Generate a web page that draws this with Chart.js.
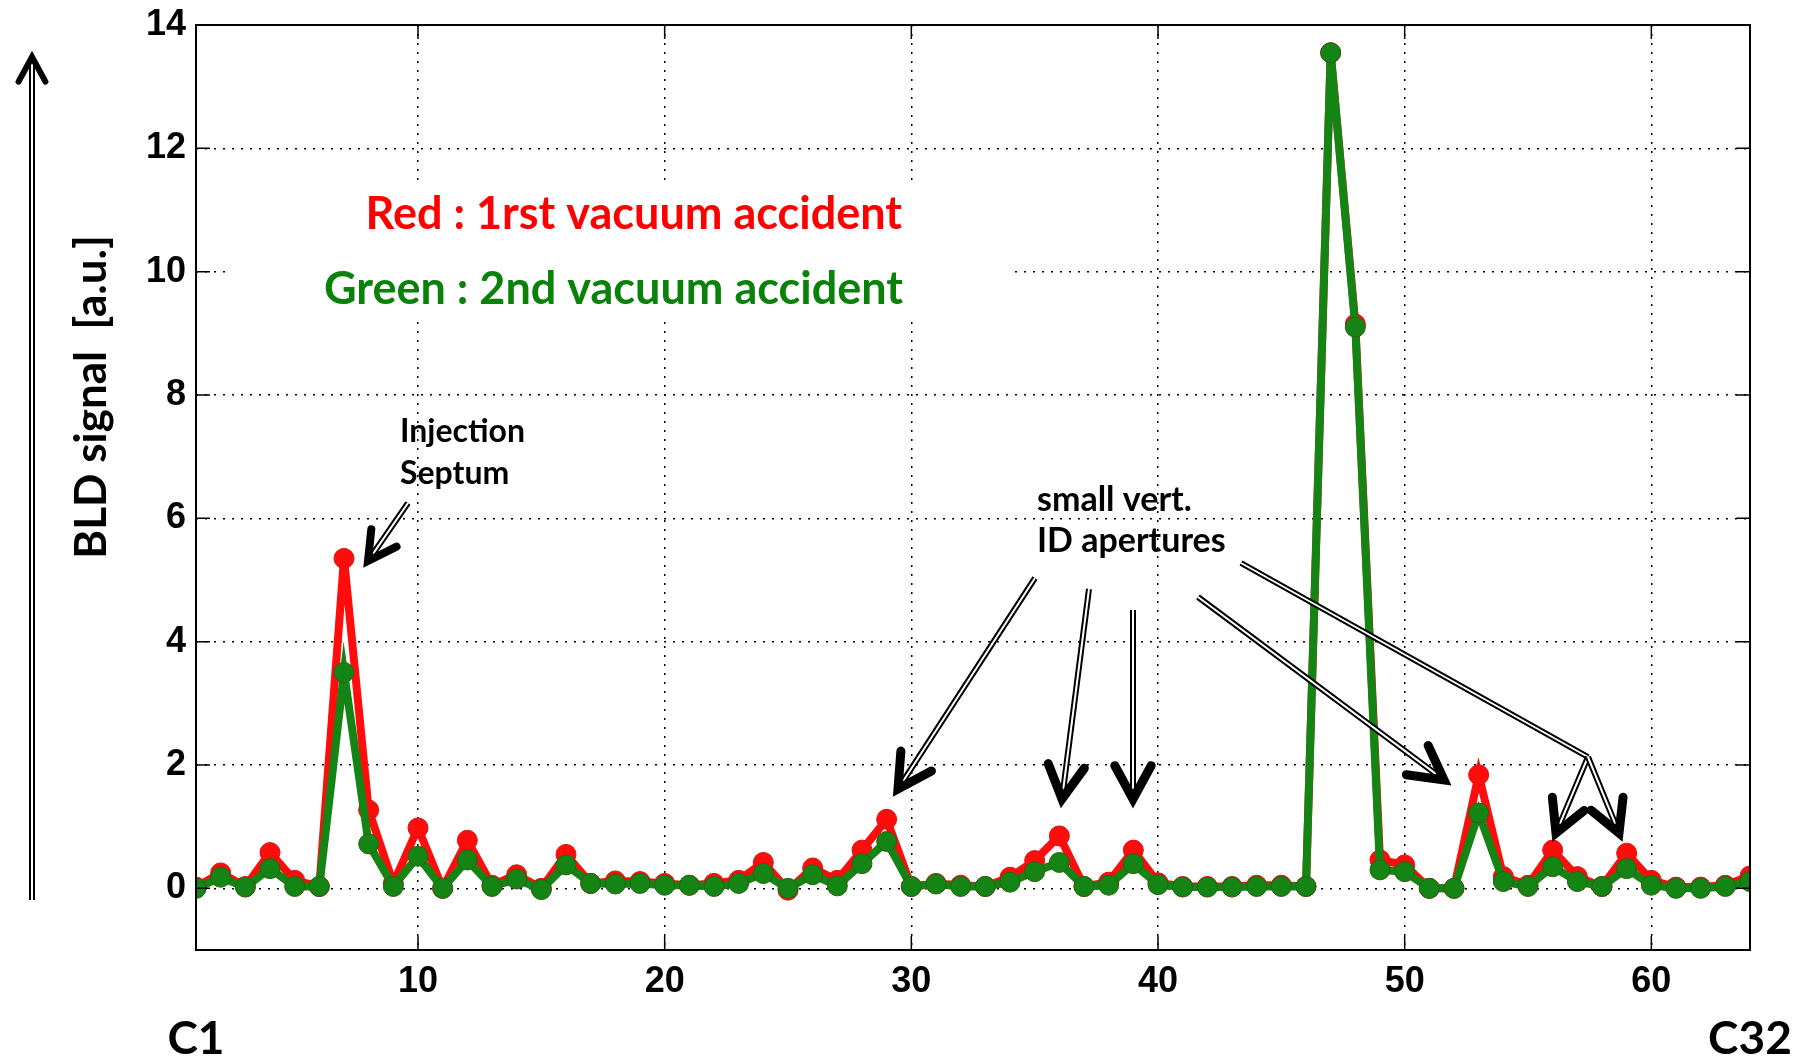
<!DOCTYPE html>
<html>
<head>
<meta charset="utf-8">
<script src="https://cdn.jsdelivr.net/npm/chart.js@4.4.0/dist/chart.umd.min.js"></script>
<style>
  body { margin: 0; background: #fff; }
  #wrap { width: 1794px; height: 1059px; position: relative; }
</style>
</head>
<body>
<div id="wrap"><canvas id="grafico"></canvas></div>
<script>
// ======== Dados ========
const canais = [1, 2, 3, 4, 5, 6, 7, 8, 9, 10, 11, 12, 13, 14, 15, 16,
  17, 18, 19, 20, 21, 22, 23, 24, 25, 26, 27, 28, 29, 30, 31, 32,
  33, 34, 35, 36, 37, 38, 39, 40, 41, 42, 43, 44, 45, 46, 47, 48,
  49, 50, 51, 52, 53, 54, 55, 56, 57, 58, 59, 60, 61, 62, 63, 64];

// 1st vacuum accident (red)
const sinalRed = [0.02, 0.25, 0.03, 0.58, 0.13, 0.03, 5.35, 1.27, 0.08, 0.98, 0.0, 0.78, 0.05, 0.22, 0.0, 0.55,
  0.08, 0.12, 0.11, 0.08, 0.05, 0.08, 0.13, 0.42, -0.03, 0.33, 0.13, 0.62, 1.12, 0.03, 0.08, 0.05,
  0.03, 0.18, 0.45, 0.85, 0.03, 0.1, 0.62, 0.09, 0.03, 0.03, 0.03, 0.05, 0.05, 0.03, 13.55, 9.15,
  0.46, 0.38, 0.0, 0.0, 1.84, 0.19, 0.05, 0.62, 0.19, 0.03, 0.57, 0.13, 0.02, 0.02, 0.05, 0.2];

// 2nd vacuum accident (green)
const sinalGreen = [0.0, 0.18, 0.02, 0.32, 0.03, 0.03, 3.5, 0.72, 0.03, 0.52, 0.0, 0.46, 0.03, 0.15, -0.02, 0.38,
  0.08, 0.07, 0.08, 0.05, 0.05, 0.03, 0.08, 0.24, 0.0, 0.22, 0.04, 0.4, 0.76, 0.03, 0.07, 0.03,
  0.03, 0.1, 0.27, 0.42, 0.03, 0.05, 0.4, 0.06, 0.02, 0.02, 0.02, 0.03, 0.03, 0.03, 13.55, 9.1,
  0.3, 0.27, 0.0, 0.0, 1.22, 0.11, 0.03, 0.35, 0.11, 0.03, 0.32, 0.05, 0.0, 0.0, 0.03, 0.11];

const ticksX = [10, 20, 30, 40, 50, 60];
const ticksY = [0, 2, 4, 6, 8, 10, 12, 14];

const VERMELHO = "#ff0c0c";
const VERDE = "#148414";

// ======== Desenho auxiliar ========
function setaDupla(ctx, x1, y1, x2, y2) {
  ctx.save();
  ctx.lineCap = "butt";
  ctx.strokeStyle = "#000";
  ctx.lineWidth = 6;
  ctx.beginPath(); ctx.moveTo(x1, y1); ctx.lineTo(x2, y2); ctx.stroke();
  ctx.strokeStyle = "#fff";
  ctx.lineWidth = 2;
  ctx.beginPath(); ctx.moveTo(x1, y1); ctx.lineTo(x2, y2); ctx.stroke();
  ctx.restore();
}

function ponta(ctx, xa, ya, x, y, tam, larg) {
  const ang = Math.atan2(y - ya, x - xa);
  ctx.save();
  ctx.strokeStyle = "#000";
  ctx.lineWidth = larg;
  ctx.lineCap = "round";
  ctx.lineJoin = "miter";
  ctx.beginPath();
  ctx.moveTo(x - tam * Math.cos(ang - 0.5), y - tam * Math.sin(ang - 0.5));
  ctx.lineTo(x, y);
  ctx.lineTo(x - tam * Math.cos(ang + 0.5), y - tam * Math.sin(ang + 0.5));
  ctx.stroke();
  ctx.restore();
}

function seta(ctx, x1, y1, x2, y2, tam, larg) {
  const ang = Math.atan2(y2 - y1, x2 - x1);
  setaDupla(ctx, x1, y1, x2 - 6 * Math.cos(ang), y2 - 6 * Math.sin(ang));
  ponta(ctx, x1, y1, x2, y2, tam, larg);
}

const decoracao = {
  id: "decoracao",
  beforeDatasetsDraw(chart) {
    const ctx = chart.ctx;
    // fundo branco atras da legenda
    ctx.save();
    ctx.fillStyle = "#fff";
    ctx.fillRect(229, 183, 784, 132);
    ctx.textBaseline = "middle";
    ctx.textAlign = "right";
    ctx.font = "bold 45px Lato";
    ctx.fillStyle = "#ff0000";
    ctx.fillText("Red : 1rst vacuum accident", 902, 214);
    ctx.fillStyle = "#0a820a";
    ctx.fillText("Green : 2nd vacuum accident", 903, 289);
    ctx.restore();
  },
  afterDatasetsDraw(chart) {
    const ctx = chart.ctx;
    const a = chart.chartArea;
    const sx = chart.scales.x, sy = chart.scales.y;
    ctx.save();
    ctx.strokeStyle = "#000";
    ctx.lineWidth = 2;
    ctx.strokeRect(a.left, a.top, a.right - a.left, a.bottom - a.top);
    // marcas internas
    ctx.lineWidth = 1.5;
    ticksX.forEach((v) => {
      const px = sx.getPixelForValue(v);
      ctx.beginPath();
      ctx.moveTo(px, a.bottom); ctx.lineTo(px, a.bottom - 14);
      ctx.moveTo(px, a.top); ctx.lineTo(px, a.top + 14);
      ctx.stroke();
    });
    ticksY.forEach((v) => {
      const py = sy.getPixelForValue(v);
      ctx.beginPath();
      ctx.moveTo(a.left, py); ctx.lineTo(a.left + 14, py);
      ctx.moveTo(a.right, py); ctx.lineTo(a.right - 14, py);
      ctx.stroke();
    });
    ctx.restore();
  },
  afterDraw(chart) {
    const ctx = chart.ctx;
    const sx = chart.scales.x;
    ctx.save();
    // titulo do eixo y
    ctx.fillStyle = "#000";
    ctx.translate(92, 397);
    ctx.rotate(-Math.PI / 2);
    ctx.textAlign = "center";
    ctx.textBaseline = "middle";
    ctx.font = "bold 44px Lato";
    ctx.fillText("BLD signal  [a.u.]", 0, 0);
    ctx.restore();

    ctx.save();
    ctx.fillStyle = "#000";
    ctx.textBaseline = "middle";
    ctx.textAlign = "center";
    ctx.font = "bold 46px Lato";
    ctx.fillText("C1", sx.getPixelForValue(canais[0]), 1039);
    ctx.fillText("C32", sx.getPixelForValue(canais[canais.length - 1]), 1039);

    ctx.textAlign = "left";
    ctx.font = "bold 32px Lato";
    ctx.fillText("Injection", 400, 432);
    ctx.fillText("Septum", 400, 474);
    ctx.font = "bold 34px Lato";
    ctx.fillText("small vert.", 1037, 500);
    ctx.fillText("ID apertures", 1037, 541);
    ctx.restore();

    // seta grande vertical
    setaDupla(ctx, 32, 900, 32, 62);
    ponta(ctx, 32, 900, 32, 57, 28, 6);

    seta(ctx, 408, 503, 368, 561, 32, 8);
    seta(ctx, 1035, 578, 898, 789, 38, 9);
    seta(ctx, 1089, 589, 1062, 799, 38, 9);
    seta(ctx, 1133, 610, 1133, 799, 38, 9);
    seta(ctx, 1198, 597, 1444, 780, 38, 9);
    setaDupla(ctx, 1241, 563, 1588, 757);
    seta(ctx, 1588, 757, 1556, 833, 36, 9);
    seta(ctx, 1588, 757, 1619, 833, 36, 9);
  },
};

// ======== Grafico ========
function pontos(valores) {
  return canais.map((c, i) => ({ x: c, y: valores[i] }));
}

const ctx = document.getElementById("grafico").getContext("2d");
new Chart(ctx, {
  type: "line",
  data: {
    datasets: [
      {
        label: "Red : 1rst vacuum accident",
        data: pontos(sinalRed),
        borderColor: VERMELHO,
        backgroundColor: VERMELHO,
        pointBorderColor: "#e01010",
        borderWidth: 8,
        pointRadius: 10,
        pointBorderWidth: 1,
        tension: 0,
        order: 2,
      },
      {
        label: "Green : 2nd vacuum accident",
        data: pontos(sinalGreen),
        borderColor: VERDE,
        backgroundColor: VERDE,
        pointBorderColor: "#2f5f14",
        borderWidth: 8,
        pointRadius: 10,
        pointBorderWidth: 1,
        tension: 0,
        order: 1,
      },
    ],
  },
  options: {
    responsive: true,
    maintainAspectRatio: false,
    animation: false,
    layout: { padding: { left: 0, right: 44, top: 25, bottom: 0 } },
    plugins: {
      legend: { display: false },
      tooltip: { enabled: false },
    },
    scales: {
      x: {
        type: "linear",
        min: 1,
        max: 64,
        afterBuildTicks: (axis) => { axis.ticks = ticksX.map((v) => ({ value: v })); },
        afterFit: (axis) => {
          axis.height = 109;
          axis.paddingLeft = 0;
          axis.paddingRight = 0;
        },
        grid: { color: "#000", lineWidth: 1.5, drawTicks: false },
        border: { display: false, dash: [2, 7] },
        ticks: {
          padding: 10,
          color: "#000",
          font: { family: "Liberation Sans", weight: "bold", size: 36 },
          maxRotation: 0,
        },
      },
      y: {
        min: -1,
        max: 14,
        afterBuildTicks: (axis) => { axis.ticks = ticksY.map((v) => ({ value: v })); },
        afterFit: (axis) => {
          axis.width = 196;
          axis.paddingTop = 0;
          axis.paddingBottom = 0;
        },
        grid: { color: "#000", lineWidth: 1.5, drawTicks: false },
        border: { display: false, dash: [2, 7] },
        ticks: {
          padding: 10,
          color: "#000",
          font: { family: "Liberation Sans", weight: "bold", size: 36 },
        },
      },
    },
  },
  plugins: [decoracao],
});
</script>
</body>
</html>
